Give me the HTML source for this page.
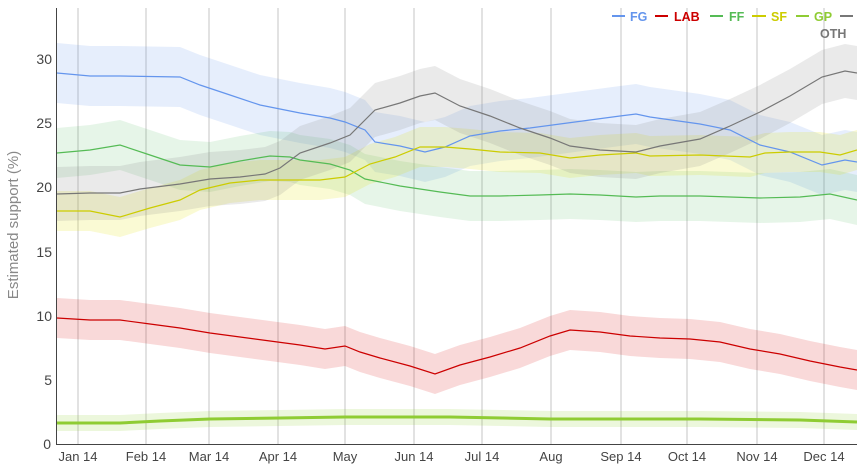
<!DOCTYPE html>
<html><head><meta charset="utf-8"><style>
html,body{margin:0;padding:0;background:#fff;width:857px;height:466px;overflow:hidden}
svg{display:block;font-family:"Liberation Sans",sans-serif}
</style></head><body>
<svg id="s" width="857" height="466" viewBox="0 0 857 466">
<g stroke="#c4c4c4" stroke-width="1">
<line x1="78" y1="8" x2="78" y2="445"/><line x1="146" y1="8" x2="146" y2="445"/><line x1="209" y1="8" x2="209" y2="445"/><line x1="278" y1="8" x2="278" y2="445"/><line x1="345" y1="8" x2="345" y2="445"/><line x1="414" y1="8" x2="414" y2="445"/><line x1="482" y1="8" x2="482" y2="445"/><line x1="551" y1="8" x2="551" y2="445"/><line x1="621" y1="8" x2="621" y2="445"/><line x1="687" y1="8" x2="687" y2="445"/><line x1="757" y1="8" x2="757" y2="445"/><line x1="824" y1="8" x2="824" y2="445"/>
</g>
<g id="bands"></g><g id="lines"></g>
<line x1="56.5" y1="8" x2="56.5" y2="445" stroke="#444"/>
<line x1="56" y1="444.5" x2="857" y2="444.5" stroke="#444"/>
<g fill="#444" font-size="14" text-anchor="end">
<text x="52" y="64">30</text><text x="52" y="128">25</text><text x="52" y="192">20</text><text x="52" y="257">15</text><text x="52" y="321">10</text><text x="52" y="385">5</text><text x="51" y="449">0</text>
</g>
<g fill="#444" font-size="13" text-anchor="middle">
<text x="78" y="461">Jan 14</text><text x="146" y="461">Feb 14</text><text x="209" y="461">Mar 14</text><text x="278" y="461">Apr 14</text><text x="345" y="461">May</text><text x="414" y="461">Jun 14</text><text x="482" y="461">Jul 14</text><text x="551" y="461">Aug</text><text x="621" y="461">Sep 14</text><text x="687" y="461">Oct 14</text><text x="757" y="461">Nov 14</text><text x="824" y="461">Dec 14</text>
</g>
<text transform="translate(18,225) rotate(-90)" text-anchor="middle" font-size="15" fill="#888">Estimated support (%)</text>
<g font-size="12.5" font-weight="bold" stroke-width="2">
<line x1="612" y1="16" x2="625" y2="16" stroke="#6495ed"/><text x="630" y="21" fill="#6495ed">FG</text>
<line x1="655" y1="16" x2="668" y2="16" stroke="#cc0000"/><text x="674" y="21" fill="#cc0000">LAB</text>
<line x1="710" y1="16" x2="723" y2="16" stroke="#55bb55"/><text x="729" y="21" fill="#55bb55">FF</text>
<line x1="752" y1="16" x2="766" y2="16" stroke="#cccc00"/><text x="771" y="21" fill="#cccc00">SF</text>
<line x1="796" y1="16" x2="809" y2="16" stroke="#8fcc33"/><text x="814" y="21" fill="#8fcc33">GP</text>
<line x1="840" y1="16" x2="853" y2="16" stroke="#777"/><text x="820" y="38" fill="#777">OTH</text>
</g>
</svg>
<script>
const S=[
{c:"#6495ed",f:"rgba(100,149,237,0.16)",w:30,p:[[57,73],[90,76],[120,76],[180,77],[200,85],[230,95],[260,105],[300,113],[330,118],[345,122],[365,130],[375,142],[400,146],[425,152],[445,147],[470,136],[500,131],[530,128],[560,124],[590,120],[620,116],[636,114],[650,117],[700,124],[730,130],[760,145],[790,152],[822,165],[845,160],[857,162]]},
{c:"#cc0000",f:"rgba(220,30,30,0.17)",w:20,p:[[57,318],[90,320],[120,320],[150,324],[180,328],[210,333],[240,337],[270,341],[300,345],[325,349],[345,346],[360,352],[380,358],[410,366],[435,374],[460,365],[490,357],[520,348],[550,336],[570,330],[600,332],[630,336],[660,338],[690,339],[720,342],[750,349],[780,354],[810,361],[840,367],[857,370]]},
{c:"#55bb55",f:"rgba(60,179,80,0.13)",w:25,p:[[57,153],[90,150],[120,145],[150,155],[180,165],[210,167],[240,161],[270,156],[290,157],[300,160],[330,164],[350,170],[365,179],[400,186],[440,192],[470,196],[500,196],[540,195],[570,194],[600,195],[636,197],[660,196],[700,196],[730,197],[760,198],[800,197],[830,194],[857,200]]},
{c:"#cccc00",f:"rgba(225,225,0,0.17)",w:20,p:[[57,211],[90,211],[120,217],[150,208],[180,200],[200,190],[230,183],[260,180],[290,180],[320,180],[345,177],[370,164],[395,157],[420,147],[445,147],[470,149],[500,152],[540,153],[570,158],[600,155],[636,153],[650,156],[700,155],[750,157],[765,153],[790,152],[820,152],[840,155],[857,150]]},
{c:"#777",f:"rgba(128,128,128,0.17)",w:27,p:[[57,194],[90,193],[120,193],[140,189],[180,184],[210,179],[240,177],[265,174],[280,168],[300,153],[330,143],[350,135],[365,120],[375,110],[400,103],[420,96],[435,93],[460,106],[490,116],[520,128],[550,138],[570,146],[600,150],[636,152],[660,146],[700,139],[730,126],[760,112],[790,96],[822,77],[845,71],[857,73]]},
{c:"#8fcc33",f:"rgba(150,210,60,0.18)",w:8,sw:3,p:[[57,423],[120,423],[160,421],[210,419],[280,418],[345,417],[450,417],[550,419],[700,419],[800,420],[857,422]]}
];
const ns="http://www.w3.org/2000/svg",B=document.getElementById("bands"),L=document.getElementById("lines");
S.forEach(s=>{
 const up=s.p.map(q=>q[0]+","+(q[1]-s.w)).join(" "),dn=s.p.slice().reverse().map(q=>q[0]+","+(q[1]+s.w)).join(" ");
 const pg=document.createElementNS(ns,"polygon");pg.setAttribute("points",up+" "+dn);pg.setAttribute("fill",s.f);B.appendChild(pg);
 const pl=document.createElementNS(ns,"polyline");pl.setAttribute("points",s.p.map(q=>q.join(",")).join(" "));
 pl.setAttribute("fill","none");pl.setAttribute("stroke",s.c);pl.setAttribute("stroke-width",s.sw||1.2);L.appendChild(pl);
});
</script>
</body></html>
